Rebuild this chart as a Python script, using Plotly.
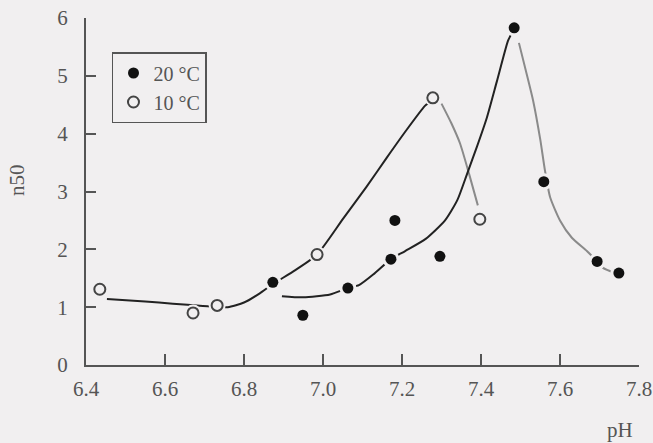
import plotly.graph_objects as go

BG = "#f1eff0"
INK = "#555555"

# Data points
ph_20 = [6.873, 6.949, 7.063, 7.172, 7.182, 7.296, 7.484, 7.559, 7.694, 7.749]
n50_20 = [1.43, 0.86, 1.33, 1.83, 2.50, 1.88, 5.83, 3.17, 1.79, 1.59]
ph_10 = [6.435, 6.671, 6.732, 6.985, 7.278, 7.397]
n50_10 = [1.31, 0.90, 1.03, 1.91, 4.62, 2.52]

# Fitted curves
fit10_dark_x = [6.453, 6.55, 6.62, 6.696, 6.72, 6.759, 6.80, 6.84, 6.873, 6.93, 6.985, 7.051, 7.11, 7.162, 7.21, 7.258, 7.27]
fit10_dark_y = [1.14, 1.10, 1.06, 1.02, 1.01, 1.00, 1.08, 1.24, 1.40, 1.64, 1.91, 2.53, 3.08, 3.59, 4.05, 4.48, 4.55]
fit10_grey_x = [7.30, 7.325, 7.347, 7.37, 7.392]
fit10_grey_y = [4.52, 4.18, 3.83, 3.30, 2.76]

fit20_dark_x = [6.896, 6.95, 7.018, 7.063, 7.091, 7.13, 7.172, 7.208, 7.26, 7.309, 7.34, 7.365, 7.39, 7.415, 7.44, 7.468, 7.475]
fit20_dark_y = [1.19, 1.17, 1.22, 1.33, 1.38, 1.58, 1.83, 1.97, 2.18, 2.50, 2.85, 3.31, 3.78, 4.28, 4.90, 5.60, 5.70]
fit20_grey_x = [7.496, 7.515, 7.532, 7.55, 7.562, 7.575, 7.60, 7.63, 7.668, 7.69, 7.709, 7.739]
fit20_grey_y = [5.57, 5.05, 4.57, 3.90, 3.36, 2.90, 2.50, 2.20, 1.97, 1.82, 1.68, 1.59]

x_ticks = [6.4, 6.6, 6.8, 7.0, 7.2, 7.4, 7.6, 7.8]
y_ticks = [0, 1, 2, 3, 4, 5, 6]

fig = go.Figure()

for xs, ys, col in [(fit10_dark_x, fit10_dark_y, "#222222"), (fit10_grey_x, fit10_grey_y, "#8a8a8a"),
                    (fit20_dark_x, fit20_dark_y, "#222222"), (fit20_grey_x, fit20_grey_y, "#8a8a8a")]:
    fig.add_trace(go.Scatter(x=xs, y=ys, mode="lines",
                             line=dict(color=col, width=2, shape="spline", smoothing=0.6),
                             showlegend=False, hoverinfo="skip"))

# halos to create gaps around markers
fig.add_trace(go.Scatter(x=ph_20 + ph_10, y=n50_20 + n50_10, mode="markers",
                         marker=dict(size=17, color=BG, line=dict(width=0)),
                         showlegend=False, hoverinfo="skip"))

fig.add_trace(go.Scatter(x=ph_20, y=n50_20, mode="markers", name="20 °C",
                         marker=dict(size=11, color="#111111", line=dict(width=0))))
fig.add_trace(go.Scatter(x=ph_10, y=n50_10, mode="markers", name="10 °C",
                         marker=dict(size=11, color=BG, line=dict(width=2, color="#444444"))))

axis_font = dict(family="Liberation Serif", size=21, color=INK)

fig.update_layout(
    width=653, height=443,
    paper_bgcolor=BG, plot_bgcolor=BG,
    margin=dict(l=86, r=14, t=18, b=78, autoexpand=False),
    font=axis_font,
    showlegend=True,
    legend=dict(x=0.047, y=0.902, xanchor="left", yanchor="top",
                bgcolor=BG, bordercolor="#555555", borderwidth=1.5,
                font=dict(family="Liberation Serif", size=20, color=INK),
                itemwidth=30, tracegroupgap=2),
    xaxis=dict(range=[6.4, 7.8], tickvals=x_ticks, tickformat=".1f", automargin=False,
               showgrid=False, zeroline=False, showline=True, linecolor=INK, linewidth=2,
               ticks="inside", ticklen=11, tickwidth=2, tickcolor=INK,
               tickfont=axis_font, ticklabelstandoff=4, ticklabeloverflow="allow"),
    yaxis=dict(range=[0, 6], tickvals=y_ticks, automargin=False,
               showgrid=False, zeroline=False, showline=True, linecolor=INK, linewidth=2,
               ticks="inside", ticklen=10, tickwidth=2, tickcolor=INK,
               tickfont=axis_font, ticklabelstandoff=12, ticklabeloverflow="allow"),
    annotations=[
        dict(text="pH", xref="paper", yref="paper", x=0.966, y=-0.187,
             showarrow=False, font=axis_font, xanchor="center", yanchor="middle"),
        dict(text="n50", xref="paper", yref="paper", x=(17 - 86) / 553, y=(365 - 180) / 347,
             showarrow=False, font=axis_font, textangle=-90, xanchor="center", yanchor="middle"),
    ],
)

fig.write_html("out.html", config={"displayModeBar": False},
               post_script="document.body.style.margin='0';")
